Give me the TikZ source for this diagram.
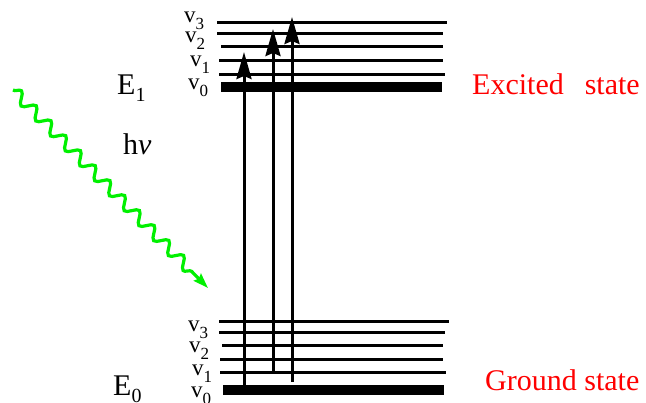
\documentclass[tikz,border=0pt]{standalone}
\usepackage{fontspec}
\setmainfont{Liberation Serif}
\usetikzlibrary{arrows.meta,decorations.pathmorphing}
\definecolor{phgreen}{RGB}{0,240,0}
\newcommand{\lowsub}[3]{\raisebox{-#3}{\fontsize{#2}{#2}\selectfont #1}}
\tikzset{
  lvl/.style={line width=3pt},
  lvlzero/.style={line width=10pt},
  absorb/.style={line width=3pt, -{Stealth[length=27pt,width=15pt,inset=3pt]}},
  photon/.style={draw=phgreen, line width=3.2pt, decorate,
    decoration={snake, segment length=21pt, amplitude=5.5pt, post length=22pt}},
  biglabel/.style={font=\fontsize{30}{30}\selectfont, inner sep=0pt, anchor=base west},
  vlabel/.style={font=\fontsize{23}{23}\selectfont, inner sep=0pt, anchor=base west},
  statelabel/.style={biglabel, text=red},
}
\begin{document}
\begin{tikzpicture}[x=1pt,y=-1pt]
\useasboundingbox (0,0) rectangle (646,403);
% excited state levels
\draw[lvl] (217,23) -- (447,23);
\draw[lvl] (217,34) -- (443,34);
\draw[lvl] (221,47) -- (443,47);
\draw[lvl] (219,61) -- (443,61);
\draw[lvl] (219,75) -- (445,75);
\draw[lvlzero] (221,87.3) -- (442,87.3);
% ground state levels
\draw[lvl] (219,322) -- (449,322);
\draw[lvl] (219,333) -- (445,333);
\draw[lvl] (222,346) -- (443,346);
\draw[lvl] (220,360) -- (443,360);
\draw[lvl] (220,373) -- (446,373);
\draw[lvlzero] (223,390) -- (444,390);
% arrow end points
\coordinate (a1s) at (244,386);
\coordinate (a1e) at (244,52);
\coordinate (a2s) at (273,374);
\coordinate (a2e) at (273,29);
\coordinate (a3s) at (292,382);
\coordinate (a3e) at (292,17);
\draw[absorb] (a1s) -- (a1e);
\draw[absorb] (a2s) -- (a2e);
\draw[absorb] (a3s) -- (a3e);
% photon
\coordinate (ph1) at (13,90);
\coordinate (ph2) at (208,288);
\draw[photon, -{Stealth[length=15pt,width=10pt,inset=2pt]}] (ph1) -- (ph2);
% labels
\node[biglabel] (E1) at (117,95) {E\lowsub{1}{20pt}{7pt}};
\node[biglabel] (E0) at (113,396) {E\lowsub{0}{20pt}{7pt}};
\node[biglabel] (hv) at (123,155) {h\textit{ν}};
\node[statelabel] (exc) at (472,95) {Excited\hspace{0.7em}state};
\node[statelabel] (gnd) at (485,391) {Ground state};
\node[vlabel] (tv3) at (184,23) {v\lowsub{3}{17pt}{7pt}};
\node[vlabel] (tv2) at (185,43) {v\lowsub{2}{17pt}{7pt}};
\node[vlabel] (tv1) at (190,67) {v\lowsub{1}{17pt}{7pt}};
\node[vlabel] (tv0) at (188,90) {v\lowsub{0}{17pt}{7pt}};
\node[vlabel] (bv3) at (188,332) {v\lowsub{3}{17pt}{7pt}};
\node[vlabel] (bv2) at (189,353) {v\lowsub{2}{17pt}{7pt}};
\node[vlabel] (bv1) at (192,376) {v\lowsub{1}{17pt}{7pt}};
\node[vlabel] (bv0) at (191,398) {v\lowsub{0}{17pt}{7pt}};
\end{tikzpicture}
\end{document}
